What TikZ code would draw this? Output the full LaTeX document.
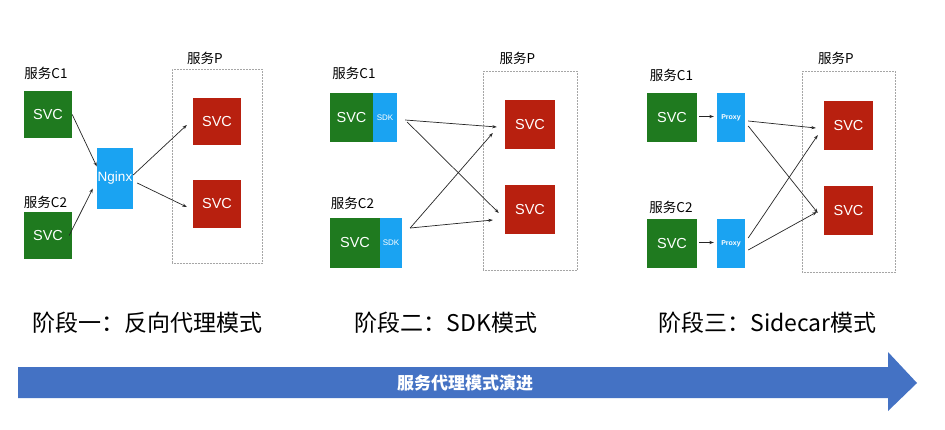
\documentclass[tikz,border=0pt]{standalone}
\usepackage{fontspec}
\setmainfont{Liberation Sans}
\newfontfamily\cjk{Noto Sans CJK SC}
\usetikzlibrary{arrows.meta,calc}
\definecolor{svcgreen}{HTML}{1F7A1F}
\definecolor{svcred}{HTML}{B8200F}
\definecolor{proxyblue}{HTML}{1AA3F2}
\definecolor{evoblue}{HTML}{4472C4}
\begin{document}
\begin{tikzpicture}[x=1pt,y=-1pt,
  gbox/.style={fill=svcgreen,text=white,inner sep=0pt,font=\fontsize{14.5}{16}\selectfont},
  rbox/.style={fill=svcred,text=white,inner sep=0pt,font=\fontsize{14.5}{16}\selectfont},
  bbox/.style={fill=proxyblue,text=white,inner sep=0pt},
  dbox/.style={draw=gray!70,densely dotted,line width=0.5pt,inner sep=0pt},
  lab/.style={font=\cjk\fontsize{13.5}{15}\selectfont,inner sep=0pt},
  stage/.style={font=\cjk\fontsize{23}{26}\selectfont,inner sep=0pt},
  arr/.style={-{Stealth[length=4.5pt,width=3.2pt]},line width=0.7pt,black!85}]
\useasboundingbox (0,0) rectangle (945,429);
\fill[white] (0,0) rectangle (945,429);

% ---------- stage 1 ----------
\node[lab] (l1c1) at (46,73) {服务C1};
\node[lab] (l1c2) at (45.5,202) {服务C2};
\node[lab] (l1p) at (205,58) {服务P};
\node[gbox,minimum width=48pt,minimum height=47pt] (c11) at (48,114.5) {SVC};
\node[gbox,minimum width=48pt,minimum height=47pt] (c12) at (48,235.5) {SVC};
\node[bbox,minimum width=36pt,minimum height=61pt,font=\fontsize{13.5}{15}\selectfont] (ngx) at (115,178.5) {Nginx};
\node[dbox,minimum width=90pt,minimum height=194pt] (p1) at (217,166) {};
\node[rbox,minimum width=48pt,minimum height=47pt] (r11) at (217,121.5) {SVC};
\node[rbox,minimum width=48pt,minimum height=48pt] (r12) at (217,204) {SVC};
\draw[arr] (c11.east) -- ($(ngx.west)+(0,-12)$);
\draw[arr] ($(c12.east)+(-3,0)$) -- ($(ngx.west)+(-4,10)$);
\draw[arr] ($(ngx.east)+(0,-3.5)$) -- ($(r11.west)+(-6,3.5)$);
\draw[arr] ($(ngx.east)+(4,4.5)$) -- ($(r12.west)+(-6,3)$);

% ---------- stage 2 ----------
\node[lab] (l2c1) at (354,73) {服务C1};
\node[lab] (l2c2) at (352.5,203) {服务C2};
\node[lab] (l2p) at (517.5,58) {服务P};
\node[gbox,minimum width=43pt,minimum height=49pt] (c21) at (351.5,117.5) {SVC};
\node[bbox,minimum width=24pt,minimum height=49pt,font=\fontsize{8}{9}\selectfont] (sdk1) at (385,117.5) {SDK};
\node[gbox,minimum width=50pt,minimum height=50pt] (c22) at (355,243) {SVC};
\node[bbox,minimum width=22pt,minimum height=50pt,font=\fontsize{8}{9}\selectfont] (sdk2) at (391,243) {SDK};
\node[dbox,minimum width=94pt,minimum height=199pt] (p2) at (530,170.5) {};
\node[rbox,minimum width=50pt,minimum height=49pt] (r21) at (530,124.5) {SVC};
\node[rbox,minimum width=50pt,minimum height=49pt] (r22) at (530,209.5) {SVC};
\draw[arr] ($(sdk1.east)+(8,2.5)$) -- ($(r21.west)+(-8,2.5)$);
\draw[arr] ($(sdk1.east)+(10,4.5)$) -- ($(r22.west)+(-6,3.5)$);
\draw[arr] ($(sdk2.east)+(8,-15)$) -- ($(r21.west)+(-12,8.5)$);
\draw[arr] ($(sdk2.east)+(8,-15)$) -- ($(r22.west)+(-12,10.5)$);

% ---------- stage 3 ----------
\node[lab] (l3c1) at (671.5,75) {服务C1};
\node[lab] (l3c2) at (671,207) {服务C2};
\node[lab] (l3p) at (836,58) {服务P};
\node[gbox,minimum width=50pt,minimum height=49pt] (c31) at (672,117.5) {SVC};
\node[bbox,minimum width=28pt,minimum height=49pt,font=\bfseries\fontsize{7}{8}\selectfont] (px1) at (731,117.5) {Proxy};
\node[gbox,minimum width=50pt,minimum height=49pt] (c32) at (672,243.5) {SVC};
\node[bbox,minimum width=28pt,minimum height=49pt,font=\bfseries\fontsize{7}{8}\selectfont] (px2) at (731,243.5) {Proxy};
\node[dbox,minimum width=93pt,minimum height=201pt] (p3) at (848.5,171.5) {};
\node[rbox,minimum width=49pt,minimum height=49pt] (r31) at (848.5,125.5) {SVC};
\node[rbox,minimum width=49pt,minimum height=49pt] (r32) at (848.5,210.5) {SVC};
\draw[arr] ($(c31.east)+(2,-1)$) -- ($(px1.west)+(-3,-1)$);
\draw[arr] ($(c32.east)+(2,-1)$) -- ($(px2.west)+(-3,-1)$);
\draw[arr] ($(px1.east)+(3,3.5)$) -- ($(r31.west)+(-8,2.5)$);
\draw[arr] ($(px1.east)+(3,8.5)$) -- ($(r32.west)+(-6,2.5)$);
\draw[arr] ($(px2.east)+(3,-5.5)$) -- ($(r31.west)+(-6,9.5)$);
\draw[arr] ($(px2.east)+(3,6.5)$) -- ($(r32.west)+(-7,1.5)$);

% ---------- stage labels ----------
\node[stage] (s1) at (147.5,323) {阶段一：反向代理模式};
\node[stage] (s2) at (446,323) {阶段二：SDK模式};
\node[stage] (s3) at (767.5,323) {阶段三：Sidecar模式};

% ---------- evolution arrow ----------
\fill[evoblue] (18,367) -- (888,367) -- (888,352) -- (917,383) -- (888,411) -- (888,398) -- (18,398) -- cycle;
\node[font=\cjk\bfseries\fontsize{17}{19}\selectfont,text=white,inner sep=0pt] (evo) at (465,383) {服务代理模式演进};
\end{tikzpicture}
\end{document}
